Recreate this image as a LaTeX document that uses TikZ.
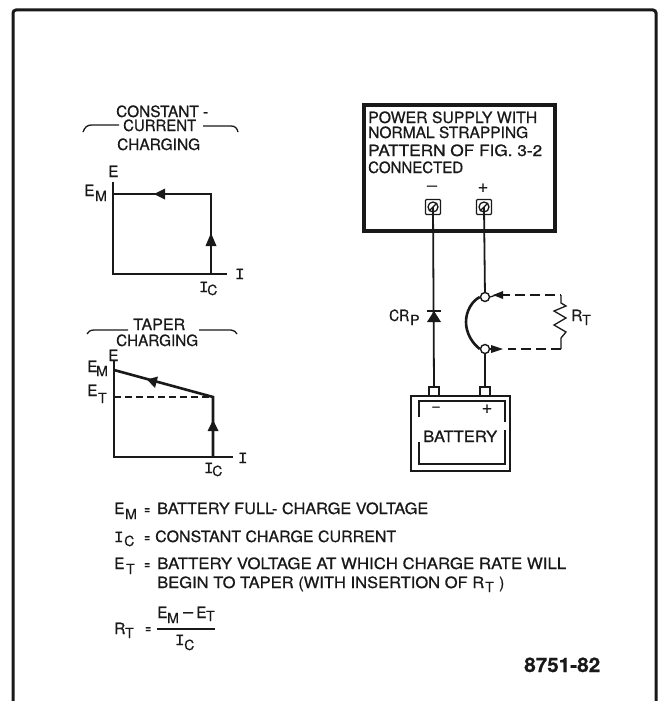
\documentclass[tikz,border=0pt]{standalone}
\usepackage{fontspec}
\usepackage{graphicx}
\setmainfont{TeX Gyre Heros}[RawFeature={embolden=0.7}]
\newfontfamily\serifi{Liberation Mono}[RawFeature={embolden=0.7}]
\tikzset{
 x=1pt,y=-1pt,
 lbl/.style={inner sep=0pt,anchor=base west,font=\fontsize{15.5}{16}\selectfont,text=black!90},
 sublbl/.style={lbl,font=\fontsize{14}{14}\selectfont},
 ilbl/.style={lbl,font=\serifi\fontsize{15.5}{16}\selectfont},
 wire/.style={draw=black!90,line width=1.8pt},
 hvy/.style={draw=black!90,line width=2.6pt},
 thin wire/.style={draw=black!90,line width=1.3pt},
 dash wire/.style={draw=black!90,line width=1.3pt,dash pattern=on 10pt off 5pt},
 tri/.style={fill=black!90,draw=none},
 term/.style={draw=black!90,line width=1.4pt,fill=white,circle,minimum size=9pt,inner sep=0pt},
 post/.style={draw=black!90,line width=1.3pt,fill=white,rounded corners=1pt,minimum size=15pt,inner sep=0pt},
 stud/.style={draw=black!90,line width=1.3pt,fill=white,minimum width=10pt,minimum height=9pt,inner sep=0pt},
 disc/.style={circle,draw=black!90,line width=1.3pt,minimum size=10pt,inner sep=0pt},
}
\newcommand{\fit}[2]{\resizebox{#1pt}{\height}{#2}}
\begin{document}
\begin{tikzpicture}
\useasboundingbox (0,0) rectangle (660,701);
\draw[line width=3pt,black!90,rounded corners=3pt] (13,703) -- (13,10) -- (656,10) -- (656,703);
% constant-current
\node[lbl] (cc1) at (116,117) {\fit{92}{CONSTANT -}};
\node[lbl] (cc2) at (123,131) {\fit{73}{CURRENT}};
\node[lbl] (cc3) at (117,150) {\fit{83}{CHARGING}};
\draw[thin wire] (83,132) .. controls (85,127) and (87,125) .. (92,125) -- (119,125);
\draw[thin wire] (203,126) -- (231,126) .. controls (235,126) and (237,128) .. (238,132);
\coordinate (a0) at (113,274);
\coordinate (a1) at (113,182);
\coordinate (a2) at (227,274);
\coordinate (a3) at (211,274);
\coordinate (a4) at (211,194);
\coordinate (a5) at (113,194);
\draw[wire] (a1) -- (a0) -- (a2);
\draw[hvy] (a3) -- (a4) -- (a5);
\fill[tri] (205.5,246) -- (211,233) -- (216.5,246) -- cycle;
\fill[tri] (154,194) -- (165,188.5) -- (165,199.5) -- cycle;
\node[lbl] (e1) at (108,177) {E};
\node[lbl] (em1) at (84,196) {E};
\node[sublbl] (em1s) at (95,201) {M};
\node[ilbl] (i1) at (235,279) {I};
\node[ilbl] (ic1) at (199,292) {I};
\node[sublbl] (ic1s) at (207,295) {C};
% taper
\node[lbl] (tc1) at (133,330) {\fit{52}{TAPER}};
\node[lbl] (tc2) at (116,346) {\fit{82}{CHARGING}};
\draw[thin wire] (87,334) .. controls (88,332) and (90,330) .. (94,330) -- (128,330);
\draw[thin wire] (199,330) -- (231,330) .. controls (234,330) and (236,332) .. (237,334);
\coordinate (b0) at (114,457);
\coordinate (b1) at (114,360);
\coordinate (b2) at (233,457);
\coordinate (b3) at (213,457);
\coordinate (b4) at (213,397);
\coordinate (b5) at (114,370);
\coordinate (b6) at (114,397);
\draw[wire] (b1) -- (b0) -- (b2);
\draw[hvy] (b3) -- (b4) -- (b5);
\draw[thin wire,dash pattern=on 7pt off 4pt] (b6) -- (b4);
\fill[tri] (207.5,431) -- (213,420) -- (218.5,431) -- cycle;
\fill[tri] (147,379.5) -- (158,376.5) -- (155,388) -- cycle;
\node[lbl] (e2) at (108,361) {E};
\node[lbl] (em2) at (87,372) {E};
\node[sublbl] (em2s) at (96,376) {M};
\node[lbl] (et2) at (87,396) {E};
\node[sublbl] (et2s) at (98,403) {T};
\node[ilbl] (i2) at (238,463) {I};
\node[ilbl] (ic2) at (204,473) {I};
\node[sublbl] (ic2s) at (212,476) {C};
% power supply
\node[draw=black!90,line width=4pt,minimum width=191pt,minimum height=126pt,inner sep=0pt] (psu) at (459.5,168) {};
\node[lbl] (p1) at (368,123) {\fit{169}{POWER SUPPLY WITH}};
\node[lbl] (p2) at (368,138) {\fit{160}{NORMAL STRAPPING}};
\node[lbl] (p3) at (368,156) {\fit{174}{PATTERN OF FIG. 3-2}};
\node[lbl] (p4) at (368,173) {\fit{95}{CONNECTED}};
\node[lbl,anchor=center] (pm) at (432,188) {\fit{10}{–}};
\node[lbl,anchor=center,font=\fontsize{18}{18}\selectfont] (pp) at (483,188) {+};
\node[post] (tm) at (433,207) {};
\node[post] (tp) at (484,207) {};
\node[disc] (tmc) at (tm) {};
\node[disc] (tpc) at (tp) {};
\draw[thin wire] (tmc.south west) -- (tmc.north east);
\draw[thin wire] (tpc.south west) -- (tpc.north east);
% battery
\node[draw=black!90,line width=1.9pt,minimum width=99pt,minimum height=75pt,inner sep=0pt] (bat) at (460.5,433.5) {};
\node[stud] (sm) at (434,391.5) {};
\node[stud] (sp) at (485,391.5) {};
\draw[thin wire] (419,417) -- (419,401) -- (505,401) -- (505,422);
\draw[thin wire] (419,442) -- (419,464) -- (505,464) -- (505,430);
\node[lbl,anchor=center] (bm) at (436,409) {\fit{7}{–}};
\node[lbl,anchor=center,font=\fontsize{18}{18}\selectfont] (bp) at (487,409) {+};
\node[lbl] (bt) at (423,442) {\fit{74}{BATTERY}};
% wiring
\node[term] (c1) at (485,297) {};
\node[term] (c2) at (485,349) {};
\draw[wire] (tm.center) -- (sm.north);
\draw[wire] (tp.center) -- (c1);
\draw[wire] (c2) -- (sp.north);
\draw[hvy] (c1.west) .. controls (472,301) and (466,311) .. (466,322) .. controls (466,333) and (472,343) .. (c2.west);
\fill[tri] (427,322) -- (441,322) -- (434,311) -- cycle;
\draw[wire] (427,311) -- (441,311);
\node[lbl] (crp) at (389,321) {\fit{20}{CR}};
\node[sublbl] (crps) at (410,325) {P};
% RT loop
\coordinate (r0) at (561,295);
\coordinate (r1) at (561,349);
\coordinate (a9) at (503,295);
\coordinate (a8) at (508,349);
\draw[thin wire] (c1.east) -- (496,295);
\draw[thin wire] (c2.east) -- (496,349);
\fill[tri] (493,295) -- (503,291) -- (503,299) -- cycle;
\fill[tri] (491,345) -- (503,349) -- (491,353) -- cycle;
\draw[dash wire,dash phase=3pt] (a9) -- (r0);
\draw[thin wire] (r0) -- (561,303) -- (566,306) -- (554,311) -- (566,318) -- (554,325) -- (566,332) -- (561,338) -- (r1);
\draw[dash wire] (r1) -- (a8);
\node[lbl] (rt) at (571,321) {R};
\node[sublbl] (rts) at (582,325) {T};
% legend
\node[lbl] (l1) at (114,514) {E};
\node[sublbl] (l1s) at (125,519) {M};
\node[lbl] (l1e) at (144,514) {\fit{6}{=}};
\node[lbl] (l1t) at (157,514) {\fit{271}{BATTERY FULL- CHARGE VOLTAGE}};
\node[ilbl] (l2) at (114,542) {I};
\node[sublbl] (l2s) at (124,546) {C};
\node[lbl] (l2e) at (144,542) {\fit{6}{=}};
\node[lbl] (l2t) at (155,542) {\fit{241}{CONSTANT CHARGE CURRENT}};
\node[lbl] (l3) at (114,569) {E};
\node[sublbl] (l3s) at (126,574) {T};
\node[lbl] (l3e) at (144,569) {\fit{6}{=}};
\node[lbl] (l3t) at (157,569) {\fit{409}{BATTERY VOLTAGE AT WHICH CHARGE RATE WILL}};
\node[lbl] (l4) at (157,588) {\fit{327}{BEGIN TO TAPER (WITH INSERTION OF R}};
\node[sublbl] (l4s) at (485,592) {T};
\node[lbl] (l4p) at (499,588) {)};
\node[lbl] (f1) at (114,634) {R};
\node[sublbl] (f1s) at (125,638) {T};
\node[lbl] (f1e) at (145,633) {\fit{6}{=}};
\node[lbl] (f2) at (157,618) {E};
\node[sublbl] (f2s) at (167,623) {M};
\node[lbl] (f2m) at (183,617) {\fit{10}{–}};
\node[lbl] (f2b) at (196,618) {E};
\node[sublbl] (f2c) at (206,621) {T};
\coordinate (fl) at (157,629);
\coordinate (fr) at (215,629);
\draw[thin wire] (fl) -- (fr);
\node[ilbl] (f3) at (175,645) {I};
\node[sublbl] (f3s) at (184,650) {C};
\node[lbl,font=\bfseries\fontsize{20}{20}\selectfont] (code) at (524,672) {\fit{76}{8751-82}};
\end{tikzpicture}
\end{document}
